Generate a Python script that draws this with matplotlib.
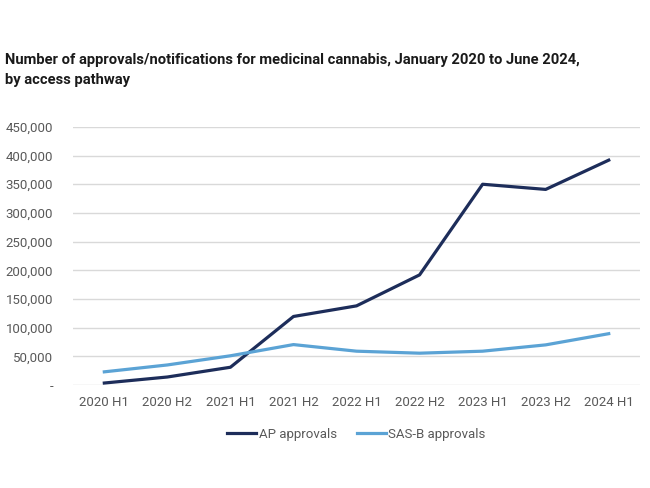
import matplotlib
matplotlib.use("Agg")
import matplotlib.pyplot as plt
from matplotlib.ticker import FuncFormatter

# data
periods = ['2020 H1', '2020 H2', '2021 H1', '2021 H2', '2022 H1',
           '2022 H2', '2023 H1', '2023 H2', '2024 H1']
ap_approvals = [3500, 14000, 31000, 119500, 138000, 192000, 350000, 341000, 392000]
sasb_approvals = [23000, 35000, 51000, 70500, 59000, 55500, 59000, 70000, 89500]

navy = '#1d2d5a'
light_blue = '#5ba3d5'
grey_text = '#595959'

plt.rcParams['font.family'] = ['Roboto', 'DejaVu Sans']

fig = plt.figure(figsize=(6.5, 4.88), dpi=100)
ax = fig.add_axes([0.112, 0.211, 0.873, 0.529])

x = list(range(len(periods)))
ax.plot(x, ap_approvals, color=navy, linewidth=2.3, label='AP approvals')
ax.plot(x, sasb_approvals, color=light_blue, linewidth=2.3, label='SAS-B approvals')

ax.set_xlim(-0.5, len(periods) - 0.5)
ax.set_ylim(0, 450000)
ax.set_yticks(range(0, 450001, 50000))
ax.yaxis.set_major_formatter(FuncFormatter(lambda v, p: '-' if v == 0 else f'{int(v):,}'))
ax.set_xticks(x)
ax.set_xticklabels(periods)

ax.grid(axis='y', color='#d9d9d9', linewidth=1)
ax.set_axisbelow(True)
for s in ax.spines.values():
    s.set_visible(False)
ax.tick_params(axis='both', length=0, labelsize=9.5, labelcolor=grey_text)
ax.tick_params(axis='y', pad=14)
ax.tick_params(axis='x', pad=8)

ax.legend(loc='upper center', bbox_to_anchor=(0.5, -0.12), ncol=2, frameon=False,
          fontsize=9.5, labelcolor=grey_text, handlelength=2.2, handletextpad=0.2,
          columnspacing=1.5)

fig.text(0.008, 0.877, 'Number of approvals/notifications for medicinal cannabis, January 2020 to June 2024,',
         fontsize=10.6, fontweight='bold', color='#1a1a1a', va='center')
fig.text(0.008, 0.836, 'by access pathway',
         fontsize=10.6, fontweight='bold', color='#1a1a1a', va='center')

fig.savefig('out.png', dpi=100)
